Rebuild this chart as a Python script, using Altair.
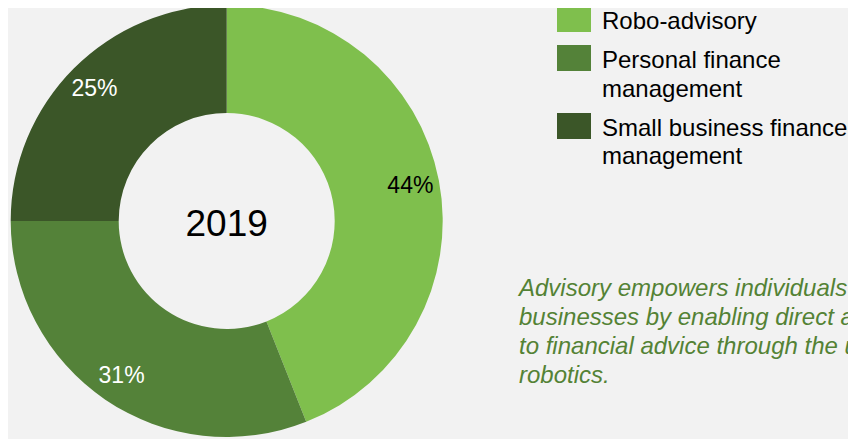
import altair as alt
import pandas as pd

# ---- data ----
categories = ["Robo-advisory", "Personal finance management", "Small business finance management"]
shares = [44, 31, 25]
legend_labels = ["Robo-advisory", "Personal finance\nmanagement", "Small business finance\nmanagement"]
colors = ["#7FBF4D", "#548239", "#3B5628"]
center_label = "2019"
caption = ("Advisory empowers individuals and\nbusinesses by enabling direct access\n"
           "to financial advice through the use of\nrobotics.")

df = pd.DataFrame({
    "category": categories,
    "share": shares,
    "order": list(range(len(categories))),
    "legend": legend_labels,
})
df["label"] = [f"{s}%" for s in shares]

FONT = "Liberation Sans"
CX, CY = 226.7, 221.0
color_scale = alt.Scale(domain=categories, range=colors)

base = alt.Chart(df).encode(
    theta=alt.Theta("share:Q", stack=True),
    order=alt.Order("order:Q"),
)

arcs = base.mark_arc(innerRadius=108, outerRadius=216).encode(
    color=alt.Color("category:N", scale=color_scale, legend=None),
    x=alt.value(CX), y=alt.value(CY),
)

labels = base.mark_text(radius=187, font=FONT, fontSize=23, align="center", baseline="middle").encode(
    text="label:N",
    color=alt.condition(alt.datum.category == categories[0], alt.value("#000000"), alt.value("#FFFFFF")),
    x=alt.value(CX), y=alt.value(CY),
)

center = alt.Chart(pd.DataFrame({"t": [center_label]})).mark_text(
    font=FONT, fontSize=37, align="center", baseline="alphabetic", color="#000000"
).encode(text="t:N", x=alt.value(CX), y=alt.value(236))

layers = [arcs, labels, center]

LEG_SYM_X = 574
LEG_TXT_X = 602
sym_y = [19, 58, 126]
txt_y = [29, 68.3, 136]
RECT = "M-1,-0.7647L1,-0.7647L1,0.7647L-1,0.7647Z"
for cat, sy, ty in zip(categories, sym_y, txt_y):
    one = alt.Chart(df).transform_filter(alt.datum.category == cat)
    layers.append(one.mark_point(shape=RECT, size=1156, filled=True, opacity=1, strokeWidth=0).encode(
        x=alt.value(LEG_SYM_X), y=alt.value(sy),
        color=alt.Color("category:N", scale=color_scale, legend=None),
    ))
    layers.append(one.mark_text(font=FONT, fontSize=24, align="left", baseline="alphabetic",
                                lineBreak="\n", lineHeight=28.3, color="#000000").encode(
        text="legend:N", x=alt.value(LEG_TXT_X), y=alt.value(ty),
    ))

cap = alt.Chart(pd.DataFrame({"t": [caption]})).mark_text(
    font=FONT, fontSize=24, fontStyle="italic", align="left", baseline="alphabetic",
    lineBreak="\n", lineHeight=29, color="#548235"
).encode(text="t:N", x=alt.value(519), y=alt.value(296))
layers.append(cap)

chart = alt.layer(*layers).properties(
    width=848, height=439,
    autosize="none",
    padding={"left": -8, "top": -8, "right": 0, "bottom": 0},
    background="#F2F2F2",
).configure_view(strokeWidth=0)

chart.save("out.html", embed_options={"renderer": "svg", "actions": False})
